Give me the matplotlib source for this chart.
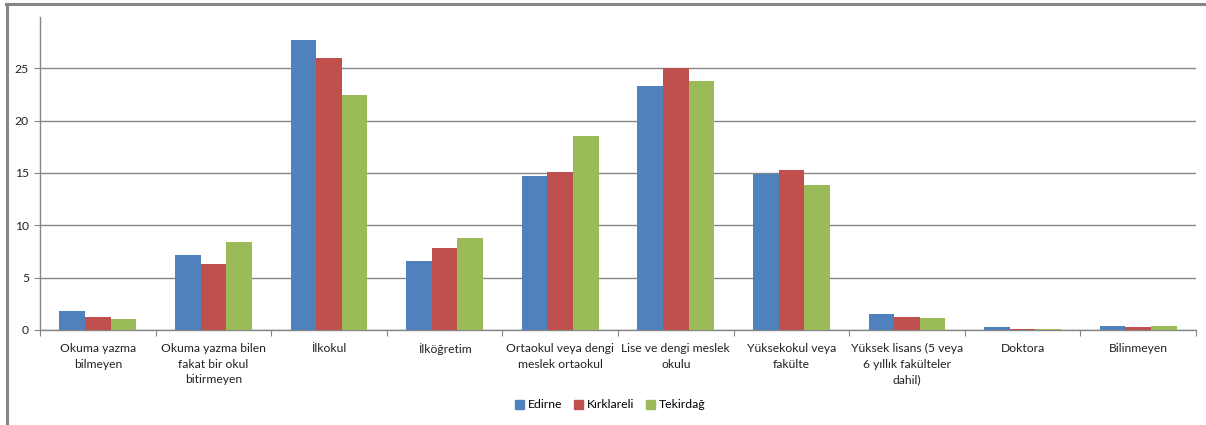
import numpy as np
import matplotlib
matplotlib.use("Agg")
import matplotlib.pyplot as plt
from matplotlib.patches import Rectangle
from matplotlib.lines import Line2D

categories = [
    "Okuma yazma\nbilmeyen",
    "Okuma yazma bilen\nfakat bir okul\nbitirmeyen",
    "İlkokul",
    "İlköğretim",
    "Ortaokul veya dengi\nmeslek ortaokul",
    "Lise ve dengi meslek\nokulu",
    "Yüksekokul veya\nfakülte",
    "Yüksek lisans (5 veya\n6 yıllık fakülteler\ndahil)",
    "Doktora",
    "Bilinmeyen",
]
series_names = ["Edirne", "Kırklareli", "Tekirdağ"]
edirne = [1.84, 7.13, 27.74, 6.58, 14.72, 23.35, 14.89, 1.50, 0.25, 0.38]
kirklareli = [1.27, 6.30, 25.95, 7.85, 15.08, 25.00, 15.24, 1.27, 0.06, 0.29]
tekirdag = [1.05, 8.37, 22.49, 8.81, 18.51, 23.76, 13.84, 1.11, 0.05, 0.38]
yticks = [0, 5, 10, 15, 20, 25]

colors = ["#4F81BD", "#C0504D", "#9BBB59"]
grid_color = "#868686"

plt.rcParams["font.family"] = ["Lato", "DejaVu Sans"]

fig = plt.figure(figsize=(12.06, 4.25), dpi=100)
ax = fig.add_axes([40 / 1206, 1 - 330 / 425, 1156 / 1206, 313 / 425])

x = np.arange(len(categories))
bw = 0.222
for i, (vals, name) in enumerate(zip([edirne, kirklareli, tekirdag], series_names)):
    ax.bar(x + (i - 1) * bw, vals, width=bw, color=colors[i], label=name,
           zorder=3, linewidth=0)

ax.set_xlim(-0.5, len(categories) - 0.5)
ax.set_ylim(0, 29.9)
ax.set_yticks(yticks)
ax.set_yticklabels([str(v) for v in yticks], fontsize=8.7, color="#222222")
ax.yaxis.grid(True, color=grid_color, linewidth=1.0, zorder=0)
ax.tick_params(axis="y", length=4, width=0.8, color=grid_color, pad=4)

# category labels centred under each group; ticks on the boundaries
ax.set_xticks(np.arange(-0.5, len(categories) + 0.5, 1.0))
ax.set_xticklabels([])
ax.tick_params(axis="x", length=4, width=0.8, color=grid_color, direction="out")
for xi, lab in zip(x, categories):
    ax.annotate(lab, xy=(xi, 0), xycoords=("data", "axes fraction"),
                xytext=(0, -9.5), textcoords="offset points",
                ha="center", va="top", fontsize=8.7, color="#222222",
                linespacing=1.5)

for side in ["top", "right"]:
    ax.spines[side].set_visible(False)
ax.spines["left"].set_color(grid_color)
ax.spines["bottom"].set_color(grid_color)
ax.spines["left"].set_linewidth(1.0)
ax.spines["bottom"].set_linewidth(1.0)

handles = [Rectangle((0, 0), 1, 1, color=c) for c in colors]
fig.legend(handles, series_names, loc="center", bbox_to_anchor=(0.506, 1 - 405 / 425),
           ncol=3, frameon=False, fontsize=8.8, handlelength=0.7, handleheight=0.7,
           handletextpad=0.3, columnspacing=1.0)

# chart frame (left and top edges)
fig.add_artist(Line2D([7 / 1206, 7 / 1206], [0, 1 - 4 / 425], transform=fig.transFigure,
                      color=grid_color, linewidth=2.2))
fig.add_artist(Line2D([6 / 1206, 1], [1 - 4 / 425, 1 - 4 / 425], transform=fig.transFigure,
                      color=grid_color, linewidth=2.2))

fig.savefig("out.png", dpi=100, facecolor="white")
